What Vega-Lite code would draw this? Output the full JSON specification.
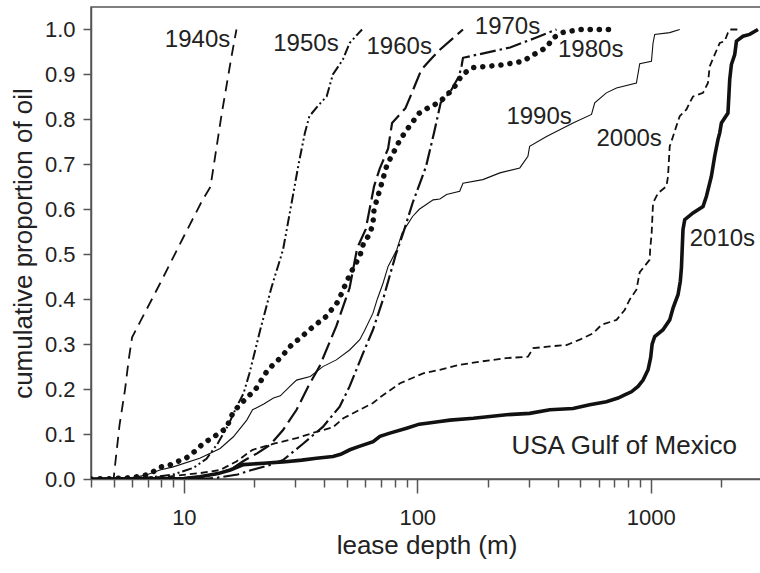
{
"$schema":"https://vega.github.io/schema/vega-lite/v6.json",
"width":671,"height":472,
"autosize":{"type":"none"},
"padding":{"left":91,"top":7,"right":0,"bottom":94},
"config":{"view":{"stroke":"#555","strokeWidth":1.5},"font":"Liberation Sans"},
"datasets":{
"curves":[
{"decade":"1940s","depth":4,"p":0},{"decade":"1940s","depth":5,"p":0},{"decade":"1940s","depth":5.07,"p":0.03},{"decade":"1940s","depth":5.3,"p":0.12},{"decade":"1940s","depth":5.6,"p":0.2},{"decade":"1940s","depth":5.8,"p":0.265},{"decade":"1940s","depth":6,"p":0.315},{"decade":"1940s","depth":6.5,"p":0.35},{"decade":"1940s","depth":8,"p":0.44},{"decade":"1940s","depth":10,"p":0.54},{"decade":"1940s","depth":12,"p":0.62},{"decade":"1940s","depth":13,"p":0.65},{"decade":"1940s","depth":14.5,"p":0.81},{"decade":"1940s","depth":16,"p":0.94},{"decade":"1940s","depth":16.8,"p":1.0},
{"decade":"1950s","depth":4,"p":0},{"decade":"1950s","depth":7,"p":0.003},{"decade":"1950s","depth":9,"p":0.01},{"decade":"1950s","depth":11,"p":0.025},{"decade":"1950s","depth":12.5,"p":0.045},{"decade":"1950s","depth":14,"p":0.08},{"decade":"1950s","depth":15.5,"p":0.12},{"decade":"1950s","depth":16.8,"p":0.16},{"decade":"1950s","depth":18,"p":0.19},{"decade":"1950s","depth":19.1,"p":0.235},{"decade":"1950s","depth":21.2,"p":0.33},{"decade":"1950s","depth":23.7,"p":0.425},{"decade":"1950s","depth":26.6,"p":0.51},{"decade":"1950s","depth":29.2,"p":0.625},{"decade":"1950s","depth":31,"p":0.7},{"decade":"1950s","depth":33,"p":0.77},{"decade":"1950s","depth":34.5,"p":0.807},{"decade":"1950s","depth":37.5,"p":0.83},{"decade":"1950s","depth":40.9,"p":0.851},{"decade":"1950s","depth":43.5,"p":0.9},{"decade":"1950s","depth":48,"p":0.933},{"decade":"1950s","depth":51.3,"p":0.97},{"decade":"1950s","depth":58,"p":1.0},
{"decade":"1960s","depth":4,"p":0},{"decade":"1960s","depth":10,"p":0.002},{"decade":"1960s","depth":12,"p":0.006},{"decade":"1960s","depth":14,"p":0.012},{"decade":"1960s","depth":16,"p":0.022},{"decade":"1960s","depth":18,"p":0.04},{"decade":"1960s","depth":20.6,"p":0.057},{"decade":"1960s","depth":23.4,"p":0.076},{"decade":"1960s","depth":26.6,"p":0.109},{"decade":"1960s","depth":30.4,"p":0.154},{"decade":"1960s","depth":34.1,"p":0.206},{"decade":"1960s","depth":38.1,"p":0.25},{"decade":"1960s","depth":45,"p":0.34},{"decade":"1960s","depth":51.3,"p":0.425},{"decade":"1960s","depth":55.3,"p":0.514},{"decade":"1960s","depth":60.1,"p":0.555},{"decade":"1960s","depth":65.3,"p":0.651},{"decade":"1960s","depth":69,"p":0.69},{"decade":"1960s","depth":75,"p":0.735},{"decade":"1960s","depth":78,"p":0.792},{"decade":"1960s","depth":89,"p":0.825},{"decade":"1960s","depth":95,"p":0.86},{"decade":"1960s","depth":104,"p":0.91},{"decade":"1960s","depth":114,"p":0.933},{"decade":"1960s","depth":125,"p":0.955},{"decade":"1960s","depth":157,"p":1.0},
{"decade":"1970s","depth":4,"p":0},{"decade":"1970s","depth":12,"p":0},{"decade":"1970s","depth":14,"p":0.003},{"decade":"1970s","depth":17,"p":0.01},{"decade":"1970s","depth":19.5,"p":0.02},{"decade":"1970s","depth":23,"p":0.03},{"decade":"1970s","depth":26.6,"p":0.042},{"decade":"1970s","depth":32.5,"p":0.079},{"decade":"1970s","depth":39.4,"p":0.116},{"decade":"1970s","depth":46.5,"p":0.161},{"decade":"1970s","depth":51.3,"p":0.206},{"decade":"1970s","depth":58.6,"p":0.28},{"decade":"1970s","depth":64.6,"p":0.332},{"decade":"1970s","depth":71.4,"p":0.4},{"decade":"1970s","depth":76,"p":0.45},{"decade":"1970s","depth":81,"p":0.5},{"decade":"1970s","depth":87.4,"p":0.55},{"decade":"1970s","depth":95.5,"p":0.614},{"decade":"1970s","depth":109,"p":0.695},{"decade":"1970s","depth":118,"p":0.77},{"decade":"1970s","depth":126,"p":0.837},{"decade":"1970s","depth":138,"p":0.86},{"decade":"1970s","depth":151,"p":0.896},{"decade":"1970s","depth":155,"p":0.92},{"decade":"1970s","depth":157,"p":0.937},{"decade":"1970s","depth":250,"p":0.96},{"decade":"1970s","depth":316,"p":0.98},{"decade":"1970s","depth":395,"p":1.0},
{"decade":"1980s","depth":4,"p":0},{"decade":"1980s","depth":5,"p":0.001},{"decade":"1980s","depth":6,"p":0.003},{"decade":"1980s","depth":6.9,"p":0.009},{"decade":"1980s","depth":7.5,"p":0.018},{"decade":"1980s","depth":8,"p":0.027},{"decade":"1980s","depth":8.7,"p":0.031},{"decade":"1980s","depth":9.4,"p":0.039},{"decade":"1980s","depth":10.2,"p":0.046},{"decade":"1980s","depth":11.1,"p":0.061},{"decade":"1980s","depth":12.1,"p":0.079},{"decade":"1980s","depth":13.8,"p":0.098},{"decade":"1980s","depth":15.2,"p":0.113},{"decade":"1980s","depth":16.3,"p":0.15},{"decade":"1980s","depth":17.4,"p":0.165},{"decade":"1980s","depth":18.5,"p":0.18},{"decade":"1980s","depth":20.2,"p":0.198},{"decade":"1980s","depth":22.9,"p":0.243},{"decade":"1980s","depth":26.2,"p":0.272},{"decade":"1980s","depth":28.9,"p":0.298},{"decade":"1980s","depth":31.4,"p":0.313},{"decade":"1980s","depth":35.8,"p":0.339},{"decade":"1980s","depth":40.6,"p":0.361},{"decade":"1980s","depth":45.8,"p":0.395},{"decade":"1980s","depth":50.2,"p":0.443},{"decade":"1980s","depth":53.6,"p":0.473},{"decade":"1980s","depth":56.7,"p":0.495},{"decade":"1980s","depth":58.6,"p":0.521},{"decade":"1980s","depth":62.8,"p":0.547},{"decade":"1980s","depth":64.6,"p":0.569},{"decade":"1980s","depth":65.3,"p":0.6},{"decade":"1980s","depth":69.8,"p":0.651},{"decade":"1980s","depth":74.3,"p":0.7},{"decade":"1980s","depth":78.9,"p":0.725},{"decade":"1980s","depth":84.4,"p":0.755},{"decade":"1980s","depth":92.6,"p":0.785},{"decade":"1980s","depth":102,"p":0.814},{"decade":"1980s","depth":115,"p":0.83},{"decade":"1980s","depth":124,"p":0.837},{"decade":"1980s","depth":134,"p":0.855},{"decade":"1980s","depth":142,"p":0.866},{"decade":"1980s","depth":151,"p":0.889},{"decade":"1980s","depth":157,"p":0.9},{"decade":"1980s","depth":171,"p":0.915},{"decade":"1980s","depth":230,"p":0.921},{"decade":"1980s","depth":283,"p":0.929},{"decade":"1980s","depth":325,"p":0.948},{"decade":"1980s","depth":358,"p":0.96},{"decade":"1980s","depth":382,"p":0.981},{"decade":"1980s","depth":416,"p":0.993},{"decade":"1980s","depth":500,"p":1.0},{"decade":"1980s","depth":690,"p":1.0},
{"decade":"1990s","depth":4,"p":0},{"decade":"1990s","depth":6,"p":0.003},{"decade":"1990s","depth":6.9,"p":0.009},{"decade":"1990s","depth":7.9,"p":0.02},{"decade":"1990s","depth":9,"p":0.027},{"decade":"1990s","depth":11.7,"p":0.046},{"decade":"1990s","depth":14.3,"p":0.068},{"decade":"1990s","depth":16.3,"p":0.094},{"decade":"1990s","depth":18.6,"p":0.131},{"decade":"1990s","depth":19.7,"p":0.154},{"decade":"1990s","depth":22,"p":0.167},{"decade":"1990s","depth":24.2,"p":0.18},{"decade":"1990s","depth":25.9,"p":0.185},{"decade":"1990s","depth":28.6,"p":0.207},{"decade":"1990s","depth":30.4,"p":0.22},{"decade":"1990s","depth":34.8,"p":0.228},{"decade":"1990s","depth":39.4,"p":0.25},{"decade":"1990s","depth":45,"p":0.265},{"decade":"1990s","depth":51.3,"p":0.287},{"decade":"1990s","depth":56.7,"p":0.31},{"decade":"1990s","depth":59.4,"p":0.33},{"decade":"1990s","depth":64.6,"p":0.369},{"decade":"1990s","depth":67.4,"p":0.4},{"decade":"1990s","depth":71.4,"p":0.436},{"decade":"1990s","depth":75,"p":0.473},{"decade":"1990s","depth":81.7,"p":0.51},{"decade":"1990s","depth":86,"p":0.547},{"decade":"1990s","depth":89.7,"p":0.562},{"decade":"1990s","depth":95.5,"p":0.584},{"decade":"1990s","depth":102,"p":0.6},{"decade":"1990s","depth":117,"p":0.621},{"decade":"1990s","depth":125,"p":0.623},{"decade":"1990s","depth":133.5,"p":0.633},{"decade":"1990s","depth":152,"p":0.64},{"decade":"1990s","depth":157,"p":0.658},{"decade":"1990s","depth":191,"p":0.666},{"decade":"1990s","depth":226,"p":0.681},{"decade":"1990s","depth":275,"p":0.692},{"decade":"1990s","depth":298,"p":0.718},{"decade":"1990s","depth":303,"p":0.74},{"decade":"1990s","depth":358,"p":0.762},{"decade":"1990s","depth":465,"p":0.792},{"decade":"1990s","depth":558,"p":0.811},{"decade":"1990s","depth":576,"p":0.837},{"decade":"1990s","depth":646,"p":0.859},{"decade":"1990s","depth":714,"p":0.87},{"decade":"1990s","depth":869,"p":0.881},{"decade":"1990s","depth":898,"p":0.924},{"decade":"1990s","depth":1008,"p":0.929},{"decade":"1990s","depth":1024,"p":0.97},{"decade":"1990s","depth":1041,"p":0.989},{"decade":"1990s","depth":1207,"p":0.993},{"decade":"1990s","depth":1332,"p":1.0},
{"decade":"2000s","depth":4,"p":0},{"decade":"2000s","depth":8.4,"p":0.005},{"decade":"2000s","depth":11.7,"p":0.013},{"decade":"2000s","depth":14.3,"p":0.02},{"decade":"2000s","depth":16.8,"p":0.039},{"decade":"2000s","depth":18.5,"p":0.055},{"decade":"2000s","depth":19.7,"p":0.065},{"decade":"2000s","depth":24.5,"p":0.079},{"decade":"2000s","depth":30.4,"p":0.091},{"decade":"2000s","depth":36,"p":0.103},{"decade":"2000s","depth":43.5,"p":0.115},{"decade":"2000s","depth":48.2,"p":0.135},{"decade":"2000s","depth":56.7,"p":0.154},{"decade":"2000s","depth":64.6,"p":0.169},{"decade":"2000s","depth":69.8,"p":0.183},{"decade":"2000s","depth":84.4,"p":0.213},{"decade":"2000s","depth":106,"p":0.235},{"decade":"2000s","depth":125,"p":0.243},{"decade":"2000s","depth":152,"p":0.254},{"decade":"2000s","depth":185,"p":0.261},{"decade":"2000s","depth":241,"p":0.269},{"decade":"2000s","depth":298,"p":0.272},{"decade":"2000s","depth":314,"p":0.291},{"decade":"2000s","depth":370,"p":0.295},{"decade":"2000s","depth":436,"p":0.298},{"decade":"2000s","depth":497,"p":0.31},{"decade":"2000s","depth":567,"p":0.324},{"decade":"2000s","depth":616,"p":0.343},{"decade":"2000s","depth":714,"p":0.354},{"decade":"2000s","depth":774,"p":0.376},{"decade":"2000s","depth":813,"p":0.399},{"decade":"2000s","depth":869,"p":0.421},{"decade":"2000s","depth":898,"p":0.46},{"decade":"2000s","depth":991,"p":0.488},{"decade":"2000s","depth":995,"p":0.51},{"decade":"2000s","depth":1010,"p":0.547},{"decade":"2000s","depth":1024,"p":0.614},{"decade":"2000s","depth":1076,"p":0.636},{"decade":"2000s","depth":1168,"p":0.651},{"decade":"2000s","depth":1187,"p":0.673},{"decade":"2000s","depth":1207,"p":0.74},{"decade":"2000s","depth":1247,"p":0.762},{"decade":"2000s","depth":1289,"p":0.785},{"decade":"2000s","depth":1332,"p":0.807},{"decade":"2000s","depth":1424,"p":0.822},{"decade":"2000s","depth":1470,"p":0.837},{"decade":"2000s","depth":1519,"p":0.851},{"decade":"2000s","depth":1676,"p":0.859},{"decade":"2000s","depth":1760,"p":0.881},{"decade":"2000s","depth":1791,"p":0.918},{"decade":"2000s","depth":1881,"p":0.944},{"decade":"2000s","depth":1977,"p":0.97},{"decade":"2000s","depth":2076,"p":0.974},{"decade":"2000s","depth":2144,"p":0.993},{"decade":"2000s","depth":2182,"p":1.0},{"decade":"2000s","depth":2406,"p":1.0},
{"decade":"2010s","depth":4,"p":0},{"decade":"2010s","depth":10,"p":0.001},{"decade":"2010s","depth":11.7,"p":0.005},{"decade":"2010s","depth":14,"p":0.012},{"decade":"2010s","depth":15.8,"p":0.02},{"decade":"2010s","depth":18,"p":0.032},{"decade":"2010s","depth":22,"p":0.035},{"decade":"2010s","depth":26.6,"p":0.038},{"decade":"2010s","depth":32,"p":0.042},{"decade":"2010s","depth":37,"p":0.046},{"decade":"2010s","depth":43.5,"p":0.05},{"decade":"2010s","depth":47,"p":0.055},{"decade":"2010s","depth":51.4,"p":0.065},{"decade":"2010s","depth":56,"p":0.072},{"decade":"2010s","depth":64.7,"p":0.083},{"decade":"2010s","depth":69.2,"p":0.095},{"decade":"2010s","depth":76.3,"p":0.102},{"decade":"2010s","depth":90,"p":0.113},{"decade":"2010s","depth":102,"p":0.122},{"decade":"2010s","depth":110,"p":0.124},{"decade":"2010s","depth":125,"p":0.128},{"decade":"2010s","depth":138,"p":0.131},{"decade":"2010s","depth":174,"p":0.135},{"decade":"2010s","depth":241,"p":0.143},{"decade":"2010s","depth":303,"p":0.146},{"decade":"2010s","depth":370,"p":0.154},{"decade":"2010s","depth":465,"p":0.157},{"decade":"2010s","depth":548,"p":0.165},{"decade":"2010s","depth":646,"p":0.172},{"decade":"2010s","depth":725,"p":0.18},{"decade":"2010s","depth":774,"p":0.187},{"decade":"2010s","depth":827,"p":0.194},{"decade":"2010s","depth":883,"p":0.206},{"decade":"2010s","depth":928,"p":0.22},{"decade":"2010s","depth":975,"p":0.243},{"decade":"2010s","depth":1000,"p":0.27},{"decade":"2010s","depth":1015,"p":0.3},{"decade":"2010s","depth":1041,"p":0.317},{"decade":"2010s","depth":1130,"p":0.332},{"decade":"2010s","depth":1207,"p":0.354},{"decade":"2010s","depth":1247,"p":0.38},{"decade":"2010s","depth":1310,"p":0.41},{"decade":"2010s","depth":1340,"p":0.44},{"decade":"2010s","depth":1355,"p":0.47},{"decade":"2010s","depth":1376,"p":0.555},{"decade":"2010s","depth":1400,"p":0.577},{"decade":"2010s","depth":1519,"p":0.592},{"decade":"2010s","depth":1676,"p":0.606},{"decade":"2010s","depth":1734,"p":0.629},{"decade":"2010s","depth":1820,"p":0.673},{"decade":"2010s","depth":1881,"p":0.718},{"decade":"2010s","depth":1943,"p":0.755},{"decade":"2010s","depth":1977,"p":0.77},{"decade":"2010s","depth":2010,"p":0.792},{"decade":"2010s","depth":2144,"p":0.814},{"decade":"2010s","depth":2182,"p":0.889},{"decade":"2010s","depth":2218,"p":0.922},{"decade":"2010s","depth":2292,"p":0.944},{"decade":"2010s","depth":2331,"p":0.974},{"decade":"2010s","depth":2487,"p":0.985},{"decade":"2010s","depth":2656,"p":0.989},{"decade":"2010s","depth":2883,"p":1.0}
],
"labels":[
{"label":"1940s","depth":8.29,"p":0.976},
{"label":"1950s","depth":24.15,"p":0.968},
{"label":"1960s","depth":60.6,"p":0.961},
{"label":"1970s","depth":176.4,"p":1.006},
{"label":"1980s","depth":401,"p":0.954},
{"label":"1990s","depth":241,"p":0.805},
{"label":"2000s","depth":586,"p":0.757},
{"label":"2010s","depth":1470,"p":0.534}
]
},
"encoding":{
"x":{"field":"depth","type":"quantitative","title":"lease depth (m)",
 "scale":{"type":"log","domain":[4,3000],"nice":false},
 "axis":{"values":[4,5,6,7,8,9,10,20,30,40,50,60,70,80,90,100,200,300,400,500,600,700,800,900,1000,2000,3000],
  "labelExpr":"(datum.value==10||datum.value==100||datum.value==1000) ? ''+datum.value : ''",
  "tickSize":{"condition":{"test":"datum.value==10||datum.value==100||datum.value==1000","value":14},"value":8},
  "grid":false,"domainColor":"#555","domainWidth":1.5,"tickColor":"#555","tickWidth":1.5,
  "labelFontSize":22,"labelColor":"#222","labelPadding":14,"labelFont":"Liberation Sans","labelFlush":false,
  "titleFontSize":26,"titleFontWeight":"normal","titleColor":"#222","titleFont":"Liberation Sans","titlePadding":4}},
"y":{"field":"p","type":"quantitative","title":"cumulative proportion of oil",
 "scale":{"domain":[0,1.05],"nice":false},
 "axis":{"values":[0,0.1,0.2,0.3,0.4,0.5,0.6,0.7,0.8,0.9,1.0],"format":".1f",
  "grid":false,"domainColor":"#555","domainWidth":1.5,"tickColor":"#555","tickWidth":1.5,"tickSize":8,
  "labelFontSize":22,"labelColor":"#222","labelPadding":8,"labelFont":"Liberation Sans",
  "titleFontSize":26,"titleFontWeight":"normal","titleColor":"#222","titleFont":"Liberation Sans","titlePadding":8}}
},
"layer":[
{"data":{"name":"curves"},"transform":[{"filter":"datum.decade == '1940s'"}],
 "mark":{"type":"line","color":"#111","clip":true,"strokeWidth":1.8,"strokeDash":[11,7]},"encoding":{}},
{"data":{"name":"curves"},"transform":[{"filter":"datum.decade == '1950s'"}],
 "mark":{"type":"line","color":"#111","clip":true,"strokeWidth":2,"strokeDash":[10,3,2,3,2,3]},"encoding":{}},
{"data":{"name":"curves"},"transform":[{"filter":"datum.decade == '1960s'"}],
 "mark":{"type":"line","color":"#111","clip":true,"strokeWidth":2.2,"strokeDash":[18,6]},"encoding":{}},
{"data":{"name":"curves"},"transform":[{"filter":"datum.decade == '1970s'"}],
 "mark":{"type":"line","color":"#111","clip":true,"strokeWidth":2.2,"strokeDash":[16,4,2.5,4]},"encoding":{}},
{"data":{"name":"curves"},"transform":[{"filter":"datum.decade == '1990s'"}],
 "mark":{"type":"line","color":"#111","clip":true,"strokeWidth":1.1},"encoding":{}},
{"data":{"name":"curves"},"transform":[{"filter":"datum.decade == '2000s'"}],
 "mark":{"type":"line","color":"#111","clip":true,"strokeWidth":1.8,"strokeDash":[7,4]},"encoding":{}},
{"data":{"name":"curves"},"transform":[{"filter":"datum.decade == '2010s'"}],
 "mark":{"type":"line","color":"#111","clip":true,"strokeWidth":3.6},"encoding":{}},
{"data":{"name":"curves"},"transform":[{"filter":"datum.decade == '1980s'"}],
 "mark":{"type":"line","color":"#111","strokeWidth":5.5,"strokeCap":"round","strokeDash":[0.1,9],"clip":true},
 "encoding":{}},
{"data":{"name":"labels"},
 "mark":{"type":"text","align":"left","baseline":"middle","fontSize":24,"font":"Liberation Sans","color":"#222"},
 "encoding":{"text":{"field":"label"}}},
{"data":{"values":[{"label":"USA Gulf of Mexico","depth":253.4,"p":0.074}]},
 "mark":{"type":"text","align":"left","baseline":"middle","fontSize":26,"font":"Liberation Sans","color":"#222"},
 "encoding":{"text":{"field":"label"}}}
]
}
